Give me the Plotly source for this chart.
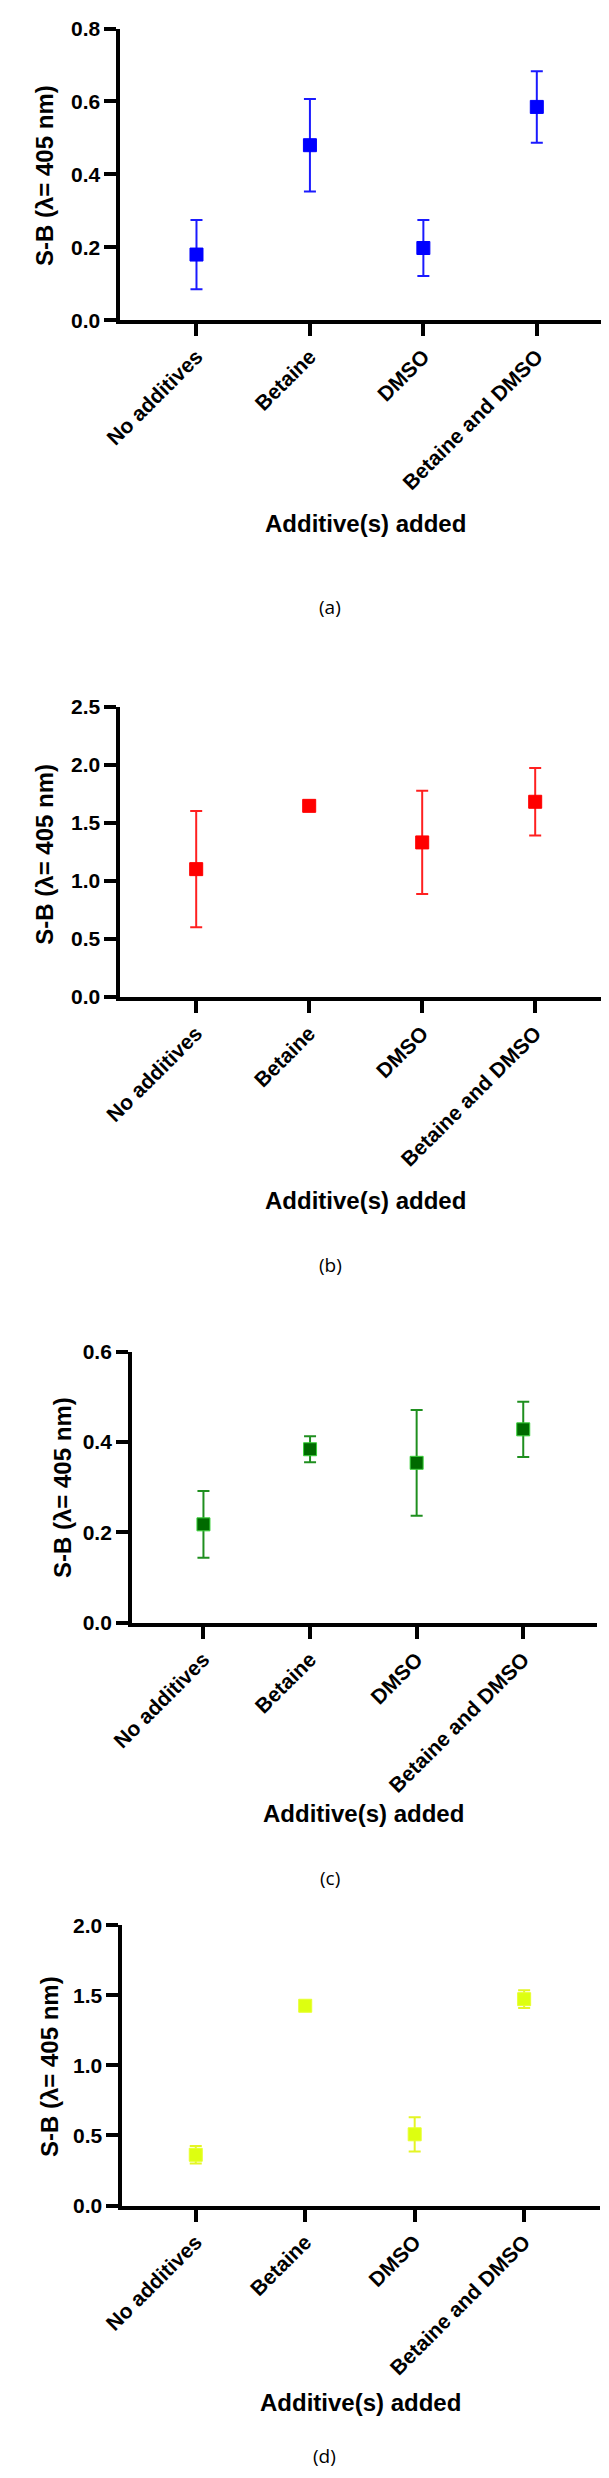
import plotly.graph_objects as go

W, H = 609, 2478

categories = ["No additives", "Betaine", "DMSO", "Betaine and DMSO"]

a_mean = [0.180, 0.480, 0.198, 0.585]
a_err = [0.095, 0.127, 0.077, 0.098]

b_mean = [1.100, 1.645, 1.330, 1.680]
b_err = [0.500, 0.000, 0.445, 0.290]

c_mean = [0.218, 0.384, 0.354, 0.428]
c_err = [0.074, 0.029, 0.117, 0.061]

d_mean = [0.362, 1.425, 0.508, 1.472]
d_err = [0.062, 0.030, 0.122, 0.063]

panels = [
    dict(mean=a_mean, err=a_err, color="#0000ff", bar="#1a1aff", line="#0000ff",
         xd=(93, 607), yd=(8.6, 303), yr=(0, 0.8), dt=0.2,
         xt=(348, 508), yt=(14, 157), lab="(a)", lp=(311, 593)),
    dict(mean=b_mean, err=b_err, color="#ff0000", bar="#ff2020", line="#ff0000",
         xd=(93, 605), yd=(693, 986), yr=(0, 2.5), dt=0.5,
         xt=(348, 1192), yt=(14, 842), lab="(b)", lp=(311, 1257)),
    dict(mean=c_mean, err=c_err, color="#006a00", bar="#1f8f1f", line="#3ad13a",
         xd=(105, 588), yd=(1344, 1618), yr=(0, 0.6), dt=0.2,
         xt=(346, 1810), yt=(33, 1481), lab="(c)", lp=(311, 1875)),
    dict(mean=d_mean, err=d_err, color="#ddff10", bar="#e4f525", line="#e8ff30",
         xd=(95, 591), yd=(1923, 2206), yr=(0, 2.0), dt=0.5,
         xt=(342, 2405), yt=(20, 2066), lab="(d)", lp=(305, 2459)),
]

FONT = "Liberation Sans, Arial, Helvetica, sans-serif"

fig = go.Figure()
annotations = []
layout = {}

for i, p in enumerate(panels):
    n = "" if i == 0 else str(i + 1)
    xa, ya = "x" + n, "y" + n
    fig.add_trace(go.Scatter(
        x=categories, y=p["mean"], xaxis=xa, yaxis=ya, mode="markers",
        marker=dict(symbol="square", size=13, color=p["color"],
                    line=dict(color=p["line"], width=1)),
        error_y=dict(type="data", array=p["err"], visible=True,
                     color=p["bar"], thickness=2, width=6),
        showlegend=False,
    ))
    x0, x1 = p["xd"]
    y0, y1 = p["yd"]
    layout["xaxis" + n] = dict(
        domain=[x0 / W, x1 / W], anchor=ya, type="category",
        range=[-0.67, 3.69], showgrid=False, zeroline=False,
        showline=True, linecolor="black", linewidth=4,
        ticks="outside", ticklen=12, tickwidth=4, tickcolor="black",
        tickangle=-45,
        tickfont=dict(family=FONT, size=21, color="black", weight="bold"),
    )
    layout["yaxis" + n] = dict(
        domain=[1 - y1 / H, 1 - y0 / H], anchor=xa,
        range=list(p["yr"]), dtick=p["dt"], tick0=0, tickformat=".1f",
        showgrid=False, zeroline=False,
        showline=True, linecolor="black", linewidth=4,
        ticks="outside", ticklen=12, tickwidth=4, tickcolor="black",
        tickfont=dict(family=FONT, size=21, color="black", weight="bold"),
    )
    annotations.append(dict(
        text="Additive(s) added", x=p["xt"][0] / W, y=1 - p["xt"][1] / H,
        xref="paper", yref="paper", showarrow=False, xanchor="center", yanchor="middle",
        font=dict(family=FONT, size=24, color="black", weight="bold"),
    ))
    annotations.append(dict(
        text="S-B (λ= 405 nm)", x=p["yt"][0] / W, y=1 - p["yt"][1] / H,
        xref="paper", yref="paper", showarrow=False, textangle=-90,
        xanchor="center", yanchor="middle",
        font=dict(family=FONT, size=24, color="black", weight="bold"),
    ))
    annotations.append(dict(
        text=p["lab"], x=p["lp"][0] / W, y=1 - p["lp"][1] / H,
        xref="paper", yref="paper", showarrow=False, xanchor="center", yanchor="middle",
        font=dict(family="Open Sans, Liberation Sans, sans-serif", size=19, color="black"),
    ))

fig.update_layout(
    width=W, height=H,
    margin=dict(l=0, r=0, t=0, b=0),
    paper_bgcolor="white", plot_bgcolor="white",
    annotations=annotations,
    **layout,
)

fig.write_html("out.html")
